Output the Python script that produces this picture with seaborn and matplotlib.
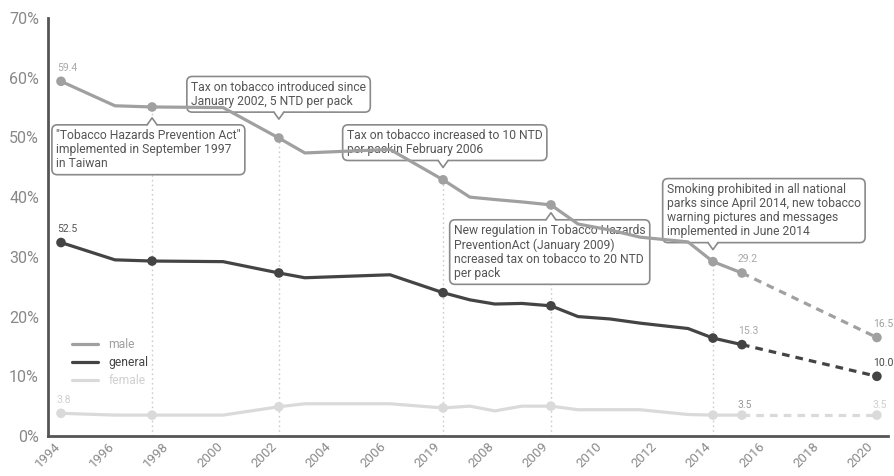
import matplotlib
matplotlib.use("Agg")
import matplotlib.pyplot as plt
import seaborn as sns
import pandas as pd
from matplotlib.lines import Line2D
from matplotlib.patches import Polygon
from matplotlib.transforms import IdentityTransform

sns.set_theme(style="white")
plt.rcParams["font.family"] = ["Roboto", "DejaVu Sans"]

# x axis: one unit per tick, a year label on every second tick
tick_labels = ["1994", "1996", "1998", "2000", "2002", "2004", "2006", "2019",
               "2008", "2009", "2010", "2012", "2014", "2016", "2018", "2020"]

# survey points (axis units) and smoking prevalence (%)
x_pos = [0.48, 2.47, 3.84, 6.46, 8.52, 9.48, 12.62, 14.58, 15.57, 16.49,
         17.49, 18.56, 19.56, 20.74, 21.85, 23.62, 24.54, 25.61]
male = [59.4, 55.3, 55.1, 55.0, 49.9, 47.4, 48.0, 42.9, 40.0, 39.6,
        39.2, 38.7, 35.5, 34.5, 33.3, 32.5, 29.2, 27.3]
general = [32.4, 29.5, 29.3, 29.2, 27.3, 26.5, 27.0, 24.0, 22.8, 22.1,
           22.2, 21.8, 20.0, 19.6, 18.9, 18.0, 16.4, 15.3]
female = [3.8, 3.5, 3.5, 3.5, 4.9, 5.4, 5.4, 4.7, 5.0, 4.2,
          5.0, 5.0, 4.4, 4.4, 4.4, 3.6, 3.5, 3.5]
marked = [0, 2, 4, 7, 11, 16, 17]
policy_points = [2, 4, 7, 11, 16]

# 2020 targets
target_pos = 30.59
male_target = 16.5
general_target = 10.0
female_target = 3.5
general_first_label = "52.5"

policy_notes = [
    "\"Tobacco Hazards Prevention Act\"\nimplemented in September 1997\nin Taiwan",
    "Tax on tobacco introduced since\nJanuary 2002, 5 NTD per pack",
    "Tax on tobacco increased to 10 NTD\nper packin February 2006",
    "New regulation in Tobacco Hazards\nPreventionAct (January 2009)\nncreased tax on tobacco to 20 NTD\nper pack",
    "Smoking prohibited in all national\nparks since April 2014, new tobacco\nwarning pictures and messages\nimplemented in June 2014",
]

groups = ["female", "general", "male"]
series = {"male": male, "general": general, "female": female}
targets = {"male": male_target, "general": general_target, "female": female_target}
palette = {"male": "#a0a0a0", "general": "#444444", "female": "#dadada"}

df = pd.DataFrame([{"pos": p, "value": v, "group": g}
                   for g in groups for p, v in zip(x_pos, series[g])])
dots = pd.DataFrame([{"pos": x_pos[i], "value": series[g][i], "group": g}
                     for g in groups for i in marked]
                    + [{"pos": target_pos, "value": targets[g], "group": g} for g in groups])
proj = pd.DataFrame([{"pos": x_pos[-1], "value": series[g][-1], "group": g} for g in groups]
                    + [{"pos": target_pos, "value": targets[g], "group": g} for g in groups])

fig = plt.figure(figsize=(8.94, 4.76), dpi=100)
ax = fig.add_axes([48 / 894, 40 / 476, 840 / 894, 418 / 476])

ax.vlines([x_pos[i] for i in policy_points], 0, [male[i] for i in policy_points],
          colors="#cccccc", linestyles=(0, (1.2, 2.2)), linewidth=1, zorder=1)

sns.lineplot(data=df, x="pos", y="value", hue="group", hue_order=groups,
             palette=palette, linewidth=2.3, legend=False, sort=False,
             ax=ax, zorder=3)
sns.lineplot(data=proj, x="pos", y="value", hue="group", hue_order=groups,
             palette=palette, linewidth=2.3, legend=False, sort=False,
             linestyle=(0, (2.4, 1.9)), ax=ax, zorder=3)
sns.scatterplot(data=dots, x="pos", y="value", hue="group", hue_order=groups,
                palette=palette, s=48, linewidth=0, legend=False, ax=ax, zorder=4)

ax.set_xlim(0, 31)
ax.set_ylim(0, 70)
ax.set_xticks(range(0, 32))
xl = []
for k in range(32):
    xl.append(tick_labels[k // 2] if k % 2 == 0 and k // 2 < len(tick_labels) else "")
ax.set_xticklabels(xl, rotation=45, ha="center", fontsize=9.5, color="#8a8a8a")
ax.set_yticks(range(0, 71, 10))
ax.set_yticklabels([f"{v}%" for v in range(0, 71, 10)], fontsize=11.5, color="#888888")
ax.tick_params(axis="x", direction="in", length=5, width=1.5, color="#555555", pad=3)
ax.tick_params(axis="y", direction="in", length=5, width=1.5, color="#555555", pad=6.5)
ax.set_xlabel("")
ax.set_ylabel("")
for s in ["top", "right"]:
    ax.spines[s].set_visible(False)
for s in ["left", "bottom"]:
    ax.spines[s].set_color("#555555")
    ax.spines[s].set_linewidth(2)

# value labels
def vlabel(x, y, text, color, dy=9.5):
    ax.annotate(text, (x, y), xytext=(-3, dy), textcoords="offset points",
                ha="left", va="center", fontsize=7.5, color=color, zorder=5)

vlabel(x_pos[0], male[0], f"{male[0]:.1f}", "#a8a8a8")
vlabel(x_pos[0], general[0], general_first_label, "#555555")
vlabel(x_pos[0], female[0], f"{female[0]:.1f}", "#cfcfcf")
vlabel(x_pos[-1], male[-1], f"{male[-2]:.1f}", "#a8a8a8", dy=10)
vlabel(x_pos[-1], general[-1], f"{general[-1]:.1f}", "#a8a8a8")
vlabel(x_pos[-1], female[-1], f"{female[-1]:.1f}", "#999999", dy=7)
vlabel(target_pos, male_target, f"{male_target:.1f}", "#a0a0a0")
vlabel(target_pos, general_target, f"{general_target:.1f}", "#444444")
vlabel(target_pos, female_target, f"{female_target:.1f}", "#cfcfcf", dy=7)

# policy call-outs: (text anchor x, y), marker index, notch side
note_layout = [((0.30, 51.4), 2, "top"),
               ((5.28, 59.5), 4, "bottom"),
               ((11.03, 51.4), 7, "bottom"),
               ((14.98, 35.5), 11, "top"),
               ((22.84, 42.4), 16, "bottom")]
boxes = []
for txt, ((tx, ty), idx, side) in zip(policy_notes, note_layout):
    t = ax.text(tx, ty, txt, ha="left", va="top", fontsize=8.7, color="#555555",
                linespacing=1.12, zorder=2,
                bbox=dict(boxstyle="round,pad=0.35,rounding_size=0.45",
                          fc="white", ec="#8a8a8a", lw=1.2))
    boxes.append((t, idx, side))

legend_handles = [Line2D([], [], color=palette[g], lw=2.3) for g in ["male", "general", "female"]]
leg = ax.legend(legend_handles, ["male", "general", "female"], loc="upper left",
                bbox_to_anchor=(0.016, 0.26), frameon=False, fontsize=8.7,
                labelcolor=[palette["male"], "#444444", "#d0d0d0"],
                handlelength=2.1, handletextpad=0.9, labelspacing=0.42)

fig.canvas.draw()
renderer = fig.canvas.get_renderer()
for t, idx, side in boxes:
    bb = t.get_bbox_patch().get_window_extent(renderer)
    xd = ax.transData.transform((x_pos[idx], 0))[0]
    hw, h = 5, 7
    if side == "bottom":
        yb, tip = bb.y0, bb.y0 - h
        cover = [(xd - hw, yb + 1.5), (xd + hw, yb + 1.5), (xd, tip)]
    else:
        yb, tip = bb.y1, bb.y1 + h
        cover = [(xd - hw, yb - 1.5), (xd + hw, yb - 1.5), (xd, tip)]
    ax.add_patch(Polygon(cover, closed=True, fc="white", ec="none",
                         transform=IdentityTransform(), zorder=2.1))
    ax.add_line(Line2D([xd - hw, xd, xd + hw], [yb, tip, yb], color="#8a8a8a",
                       lw=1.2, transform=IdentityTransform(), zorder=2.2))

fig.savefig("out.png", dpi=100)
